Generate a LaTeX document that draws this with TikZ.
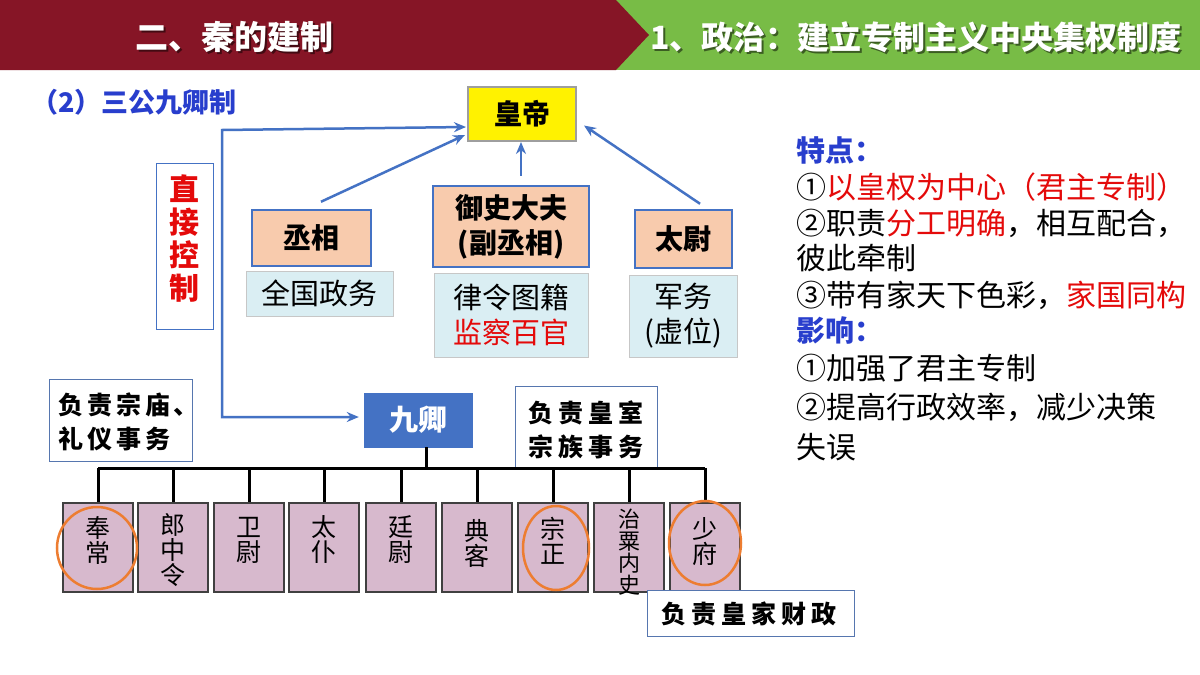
\documentclass[tikz,border=0pt]{standalone}
\usepackage{fontspec}
\setmainfont{Noto Sans CJK SC}
\usetikzlibrary{arrows.meta,calc,shapes.geometric}
\definecolor{hdred}{RGB}{134,21,38}
\definecolor{hdgreen}{RGB}{120,188,70}
\definecolor{ofblue}{RGB}{68,114,196}
\definecolor{ttblue}{RGB}{40,62,205}
\definecolor{peach}{RGB}{248,203,173}
\definecolor{lcyan}{RGB}{218,238,243}
\definecolor{qpink}{RGB}{215,185,205}
\definecolor{oforange}{RGB}{237,125,49}
\definecolor{txtred}{RGB}{228,10,10}
\newcommand\cn[1]{\makebox[1em][l]{#1}}
\begin{document}
\begin{tikzpicture}[x=1pt,y=-1pt,
  hdtext/.style={font=\fontsize{33}{36}\selectfont\bfseries, text=white, inner sep=0},
  hdshadow/.style={font=\fontsize{33}{36}\selectfont\bfseries, text=black, opacity=0.5, inner sep=0},
  gongbox/.style={draw=ofblue, line width=2.5pt, fill=peach, inner sep=0, font=\fontsize{28}{35}\selectfont\bfseries, align=center},
  dutybox/.style={draw=black!22, line width=1pt, fill=lcyan, inner sep=0, font=\fontsize{29}{35}\selectfont, align=center},
  qingbox/.style={draw=black!75, line width=1.5pt, fill=qpink, inner sep=0, minimum width=70pt, minimum height=89pt},
  qingtext/.style={font=\fontsize{25}{25}\selectfont, align=center, inner sep=0},
  notebox/.style={draw=ofblue!70!gray, line width=1pt, fill=white, inner sep=0},
  notetext/.style={font=\fontsize{25}{34}\selectfont\bfseries, align=left, inner sep=0},
  arr/.style={draw=ofblue, line width=2.5pt, -{Stealth[length=12pt,width=10pt]}},
  arrtwo/.style={draw=ofblue, line width=2.5pt, {Stealth[length=12pt,width=10pt]}-{Stealth[length=12pt,width=10pt]}},
  tree/.style={draw=black, line width=3pt},
  ring/.style={draw=oforange, line width=2.5pt},
  rtext/.style={font=\fontsize{30}{34}\selectfont, anchor=west, inner sep=0},
]
\useasboundingbox (0,0) rectangle (1200,675);
\fill[white] (0,0) rectangle (1200,675);

% header
\fill[hdgreen] (616,0) -- (1200,0) -- (1200,70) -- (616,70) -- cycle;
\fill[hdred] (0,0) -- (616,0) -- (649,35) -- (616,70) -- (0,70) -- cycle;
\node[hdshadow] (h1s) at (236,39) {二、秦的建制};
\node[hdtext] (h1) at (234,37) {二、秦的建制};
\node[hdshadow, font=\fontsize{32}{36}\selectfont\bfseries] (h2s) at (918,39) {1、政治：建立专制主义中央集权制度};
\node[hdtext, font=\fontsize{32}{36}\selectfont\bfseries] (h2) at (916,37) {1、政治：建立专制主义中央集权制度};

% title
\node[font=\fontsize{27}{30}\selectfont\bfseries, text=ttblue, anchor=west, inner sep=0] (title) at (31,102) {（2）三公九卿制};

% emperor and three gong
\node[draw=black!38, line width=2pt, fill=yellow, inner sep=0, minimum width=108pt, minimum height=54pt, font=\fontsize{28}{30}\selectfont\bfseries] (hd) at (522,114) {皇帝};
\node[gongbox, minimum width=119pt, minimum height=56pt] (cx) at (311.5,238) {丞相};
\node[dutybox, minimum width=147pt, minimum height=45pt] (qg) at (319.5,293.5) {全国政务};
\node[gongbox, minimum width=156pt, minimum height=81pt] (ys) at (511,226.5) {御史大夫\\(副丞相)};
\node[dutybox, minimum width=154pt, minimum height=84pt] (ll) at (511,315) {律令图籍\\{\color{txtred}监察百官}};
\node[gongbox, minimum width=97pt, minimum height=58pt] (tw) at (683.5,239) {太尉};
\node[dutybox, minimum width=108pt, minimum height=82pt] (jw) at (683,316) {军务\\(虚位)};

% arrows to emperor
\draw[arr] ($(cx.north)+(9.5,-7)$) -- ($(hd.south west)+(-2,-7)$);
\draw[arr] ($(hd.south |- ys.north)+(-1,-9)$) -- ($(hd.south)+(-1,0)$);
\draw[arr] ($(tw.north)+(16.5,-5)$) -- ($(hd.east)+(7,11.5)$);

% direct control box
\node[draw=ofblue, line width=1pt, fill=white, inner sep=0, minimum width=57pt, minimum height=166pt] (zj) at (184.5,246) {};
\node[font=\fontsize{30}{33}\selectfont\bfseries, text=txtred, align=center, inner sep=0] (zjt) at (184.5,239) {直\\接\\控\\制};

% nine ministers
\node[fill=ofblue, draw=ofblue, inner sep=0, minimum width=108pt, minimum height=54pt, font=\fontsize{29}{30}\selectfont\bfseries, text=white] (jq) at (418,420) {九卿};

\coordinate (c1) at (222,130);
\coordinate (c2) at (222,417);
\draw[arrtwo] ($(hd.west)+(-1,13)$) -- (c1) -- (c2) -- ($(jq.west)+(-5,-3)$);

% note boxes
\node[notebox, minimum width=143pt, minimum height=82pt] (n1) at (120.5,420) {};
\node[notetext] (n1t) at (122,421.5) {负\hspace{4pt}责\hspace{4pt}宗\hspace{4pt}庙\hspace{3pt}\makebox[12pt][l]{、}\\礼\hspace{4pt}仪\hspace{4pt}事\hspace{4pt}务};
\node[notebox, minimum width=142pt, minimum height=82pt] (n2) at (586,427) {};
\node[notetext] (n2t) at (586,430) {负\hspace{5pt}责\hspace{5pt}皇\hspace{5pt}室\\宗\hspace{5pt}族\hspace{5pt}事\hspace{5pt}务};

% tree
\node[qingbox] (q1) at (98,547.5) {};
\node[qingbox] (q2) at (173,547.5) {};
\node[qingbox] (q3) at (249,547.5) {};
\node[qingbox] (q4) at (324,547.5) {};
\node[qingbox] (q5) at (401,547.5) {};
\node[qingbox] (q6) at (477,547.5) {};
\node[qingbox] (q7) at (553,547.5) {};
\node[qingbox] (q8) at (629,547.5) {};
\node[qingbox] (q9) at (705,547.5) {};
\node[qingtext] (t1) at (98,540) {奉\\常};
\node[qingtext] (t2) at (173,550) {郎\\中\\令};
\node[qingtext] (t3) at (249,540) {卫\\尉};
\node[qingtext] (t4) at (324,540) {太\\仆};
\node[qingtext] (t5) at (401,540) {廷\\尉};
\node[qingtext] (t6) at (477,543) {典\\客};
\node[qingtext] (t7) at (553,541) {宗\\正};
\node[qingtext, font=\fontsize{22}{22}\selectfont] (t8) at (629,552) {治\\粟\\内\\史};
\node[qingtext] (t9) at (705,542) {少\\府};

\coordinate (bus) at ($(jq.south)+(8,21)$);
\draw[tree] ($(jq.south)+(8,0)$) -- (bus);
\draw[tree] (q1.north |- bus) -- (q9.north |- bus);
\foreach \q in {q1,q2,q3,q4,q5,q6,q7,q8,q9}{
  \draw[tree] (\q.north |- bus) -- (\q.north);
}

% rings
\draw[ring] (97,548) ellipse [x radius=40pt, y radius=41pt];
\draw[ring] (556,548) ellipse [x radius=33pt, y radius=42pt];
\draw[ring] (705,543) ellipse [x radius=36pt, y radius=42pt];

\node[notebox, minimum width=207pt, minimum height=46pt] (n3) at (750.5,613) {};
\node[notetext] (n3t) at (749,614) {负\hspace{5pt}责\hspace{5pt}皇\hspace{5pt}家\hspace{5pt}财\hspace{5pt}政};

% right text
\node[rtext, font=\fontsize{29}{34}\selectfont\bfseries, text=ttblue] (r1) at (796,150) {特点：};
\node[rtext] (r2) at (796,187) {\cn{①}{\color{txtred}以皇权为中心（君主专制）}};
\node[rtext] (r3) at (796,223) {\cn{②}职责{\color{txtred}分工明确}，相互配合，};
\node[rtext] (r4) at (796,258) {彼此牵制};
\node[rtext] (r5) at (796,295) {\cn{③}带有家天下色彩，{\color{txtred}家国同构}};
\node[rtext, font=\fontsize{29}{34}\selectfont\bfseries, text=ttblue] (r6) at (796,330) {影响：};
\node[rtext] (r7) at (796,368) {\cn{①}加强了君主专制};
\node[rtext] (r8) at (796,407) {\cn{②}提高行政效率，减少决策};
\node[rtext] (r9) at (796,447) {失误};
\end{tikzpicture}
\end{document}
